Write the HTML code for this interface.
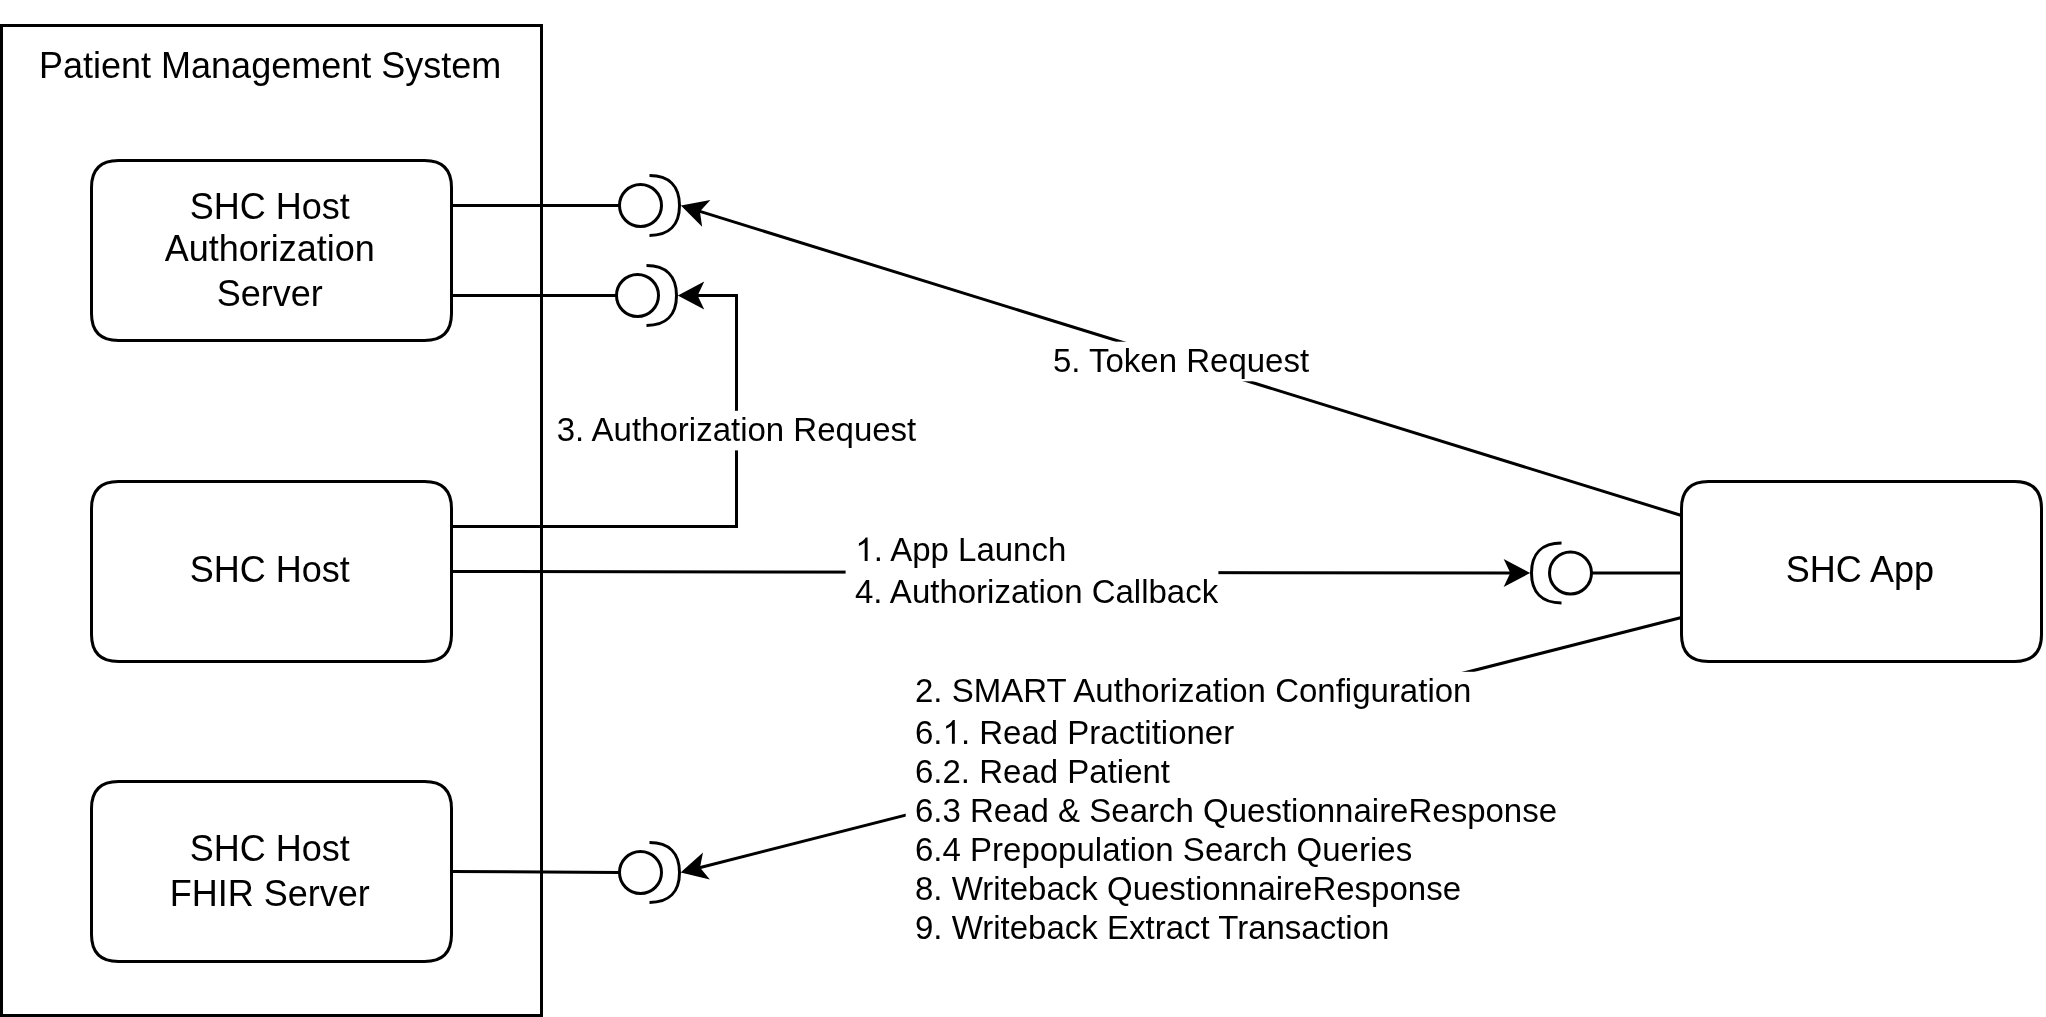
<!DOCTYPE html>
<html><head><meta charset="utf-8"><style>
html,body{margin:0;padding:0;background:#fff;overflow:hidden;}
svg{display:block;will-change:transform;}
text{font-family:"Liberation Sans",sans-serif;fill:#000;}
</style></head><body>
<svg width="2046" height="1017" viewBox="0 0 2046 1017">
<rect x="0" y="0" width="2046" height="1017" fill="#fff"/>
<g fill="#fff" stroke="#000" stroke-width="3" stroke-miterlimit="10">
<rect x="1.5" y="25.5" width="540" height="990"/>
<path d="M118.5 160.5L424.5 160.5Q451.5 160.5 451.5 187.5L451.5 313.5Q451.5 340.5 424.5 340.5L118.5 340.5Q91.5 340.5 91.5 313.5L91.5 187.5Q91.5 160.5 118.5 160.5Z"/>
<path d="M118.5 481.5L424.5 481.5Q451.5 481.5 451.5 508.5L451.5 634.5Q451.5 661.5 424.5 661.5L118.5 661.5Q91.5 661.5 91.5 634.5L91.5 508.5Q91.5 481.5 118.5 481.5Z"/>
<path d="M118.5 781.5L424.5 781.5Q451.5 781.5 451.5 808.5L451.5 934.5Q451.5 961.5 424.5 961.5L118.5 961.5Q91.5 961.5 91.5 934.5L91.5 808.5Q91.5 781.5 118.5 781.5Z"/>
<path d="M1708.5 481.5L2014.5 481.5Q2041.5 481.5 2041.5 508.5L2041.5 634.5Q2041.5 661.5 2014.5 661.5L1708.5 661.5Q1681.5 661.5 1681.5 634.5L1681.5 508.5Q1681.5 481.5 1708.5 481.5Z"/>
</g>
<g fill="none" stroke="#000" stroke-width="3" stroke-miterlimit="10">
<path d="M451.5 205.5L619.5 205.5"/>
<path d="M451.5 295.5L616.5 295.5"/>
<path d="M451.5 871.5L619.5 872.5"/>
<path d="M1681.5 573L1591.5 573"/>
<path d="M1681.5 515.5L698.33 210.93"/>
<path d="M451.5 526.5L736.5 526.5L736.5 295.5L695.95 295.5"/>
<path d="M451.5 571.5L1511.95 572.97"/>
<path d="M1681.5 617.5L698.39 867.97"/>
</g>
<g fill="#fff" stroke="#000" stroke-width="3" stroke-miterlimit="10">
<circle cx="640.5" cy="205.5" r="21"/><path d="M649.5 175.5C669 175.5 679.5 186 679.5 205.5C679.5 225 669 235.5 649.5 235.5" fill="none"/>
<circle cx="637.5" cy="295.5" r="21"/><path d="M646.5 265.5C666 265.5 676.5 276 676.5 295.5C676.5 315 666 325.5 646.5 325.5" fill="none"/>
<circle cx="640.5" cy="872.5" r="21"/><path d="M649.5 842.5C669 842.5 679.5 853 679.5 872.5C679.5 892 669 902.5 649.5 902.5" fill="none"/>
<circle cx="1570.5" cy="573" r="21"/><path d="M1561.5 543C1542 543 1531.5 553.5 1531.5 573C1531.5 592.5 1542 603 1561.5 603" fill="none"/>
</g>
<g fill="#000" stroke="#000" stroke-width="3" stroke-miterlimit="10">
<polygon points="684,206.49 706.22,202.38 698.33,210.93 700,222.44"/>
<polygon points="680.95,295.5 700.95,285 695.95,295.5 700.95,306"/>
<polygon points="1526.95,573 1506.93,583.47 1511.95,572.97 1506.96,562.47"/>
<polygon points="683.85,871.67 700.64,856.56 698.39,867.97 705.82,876.91"/>
</g>
<g fill="#fff" stroke="none">
<rect x="1053" y="341.7" width="257" height="39.6"/>
<rect x="557" y="410.8" width="360" height="39.6"/>
<rect x="845.6" y="532" width="372.8" height="79.2"/>
<rect x="905.7" y="671.8" width="660" height="279"/>
</g>
<g font-size="36">
<text x="39" y="77.9">Patient Management System</text>
<text x="269.7" y="219" text-anchor="middle">SHC Host</text>
<text x="269.7" y="260.7" text-anchor="middle">Authorization</text>
<text x="269.7" y="305.5" text-anchor="middle">Server</text>
<text x="269.7" y="581.8" text-anchor="middle">SHC Host</text>
<text x="269.7" y="860.9" text-anchor="middle">SHC Host</text>
<text x="269.7" y="906" text-anchor="middle">FHIR Server</text>
<text x="1859.9" y="581.8" text-anchor="middle">SHC App</text>
</g>
<g font-size="33">
<text x="1181" y="372" text-anchor="middle">5. Token Request</text>
<text x="736.5" y="441" text-anchor="middle">3. Authorization Request</text>
<text x="855.3" y="561.1"><tspan fill="transparent">1</tspan>. App Launch</text>
<text x="855" y="602.6">4. Authorization Callback</text>
<text x="915" y="702">2. SMART Authorization Configuration</text>
<text x="915" y="743.7">6.<tspan fill="transparent">1</tspan>. Read Practitioner</text>
<text x="915" y="782.5">6.2. Read Patient</text>
<text x="915" y="821.5">6.3 Read &amp; Search QuestionnaireResponse</text>
<text x="915" y="860.7">6.4 Prepopulation Search Queries</text>
<text x="915" y="899.6">8. Writeback QuestionnaireResponse</text>
<text x="915" y="939">9. Writeback Extract Transaction</text>
</g>
<path d="M867.59 561.1L864.69 561.1L864.69 542.62C864 543.28 863.08 543.94 861.95 544.6C860.83 545.26 859.81 545.76 858.89 546.1L858.89 543.31C860.5 542.55 861.92 541.64 863.13 540.56C864.34 539.48 865.19 538.44 865.69 537.48L867.59 537.48Z" fill="#000"/><path d="M954.82 743.7L951.92 743.7L951.92 725.22C951.22 725.88 950.3 726.54 949.18 727.2C948.05 727.86 947.03 728.36 946.11 728.7L946.11 725.91C947.73 725.15 949.14 724.24 950.35 723.16C951.56 722.08 952.42 721.04 952.91 720.08L954.82 720.08Z" fill="#000"/>
</svg>
</body></html>
